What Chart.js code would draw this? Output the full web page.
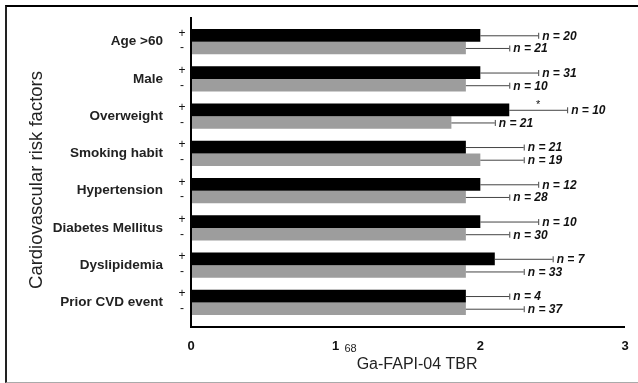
<!DOCTYPE html>
<html>
<head>
<meta charset="utf-8">
<script src="https://cdn.jsdelivr.net/npm/chart.js@4.4.1/dist/chart.umd.min.js"></script>
<style>
  html, body { margin: 0; padding: 0; background: #fff; }
  body { width: 638px; height: 383px; position: relative; overflow: hidden; }
  #frame {
    position: absolute; left: 5px; top: 5px; width: 640px; height: 375px;
    border-top: 2px solid #000; border-left: 2px solid #222; border-bottom: 1px solid #aaa;
  }
  #graficoFatores { position: absolute; left: 0; top: 0; }
</style>
</head>
<body>
<div id="frame"></div>
<canvas id="graficoFatores" width="638" height="383"></canvas>
<script>
// dados
const categorias = ['Age >60', 'Male', 'Overweight', 'Smoking habit', 'Hypertension', 'Diabetes Mellitus', 'Dyslipidemia', 'Prior CVD event'];
const comFator = [2.0, 2.0, 2.2, 1.9, 2.0, 2.0, 2.1, 1.9];      // "+"
const semFator = [1.9, 1.9, 1.8, 2.0, 1.9, 1.9, 1.9, 1.9];      // "-"
const dpComFator = [0.4, 0.4, 0.4, 0.4, 0.4, 0.4, 0.4, 0.3];
const dpSemFator = [0.3, 0.3, 0.3, 0.3, 0.3, 0.3, 0.4, 0.4];
const nComFator = [20, 31, 10, 21, 12, 10, 7, 4];
const nSemFator = [21, 10, 21, 19, 28, 30, 33, 37];
const significancia = ['', '', '*', '', '', '', '', ''];
const ticksX = [0, 1, 2, 3];
const tituloY = 'Cardiovascular risk factors';
const tituloXSup = '68';
const tituloX = 'Ga-FAPI-04 TBR';

const fonte = 'Arial, "Liberation Sans", sans-serif';

// zera o padding automático das escalas
function semPadding(scale) {
    scale.paddingTop = 0;
    scale.paddingBottom = 0;
    scale.paddingLeft = 0;
    scale.paddingRight = 0;
}

// desenha eixos, barras de erro, n e títulos
const extras = {
    id: 'extras',
    afterDatasetsDraw(chart) {
        const ctx = chart.ctx;
        const x = chart.scales.x;
        const area = chart.chartArea;
        const x0 = x.getPixelForValue(0);
        const x3 = x.getPixelForValue(3);
        ctx.save();

        // eixos
        ctx.strokeStyle = '#000';
        ctx.lineWidth = 2;
        ctx.beginPath();
        ctx.moveTo(x0, area.top - 6);
        ctx.lineTo(x0, area.bottom + 6);
        ctx.lineTo(x3, area.bottom + 6);
        ctx.stroke();

        const series = [
            { meta: chart.getDatasetMeta(0), val: comFator, dp: dpComFator, n: nComFator, sinal: '+' },
            { meta: chart.getDatasetMeta(1), val: semFator, dp: dpSemFator, n: nSemFator, sinal: '-' }
        ];
        series.forEach((s, si) => {
            s.meta.data.forEach((bar, i) => {
                const y = bar.y;
                const xs = x.getPixelForValue(s.val[i]);
                const xe = x.getPixelForValue(s.val[i] + s.dp[i]);
                ctx.strokeStyle = '#444';
                ctx.lineWidth = 1;
                ctx.beginPath();
                ctx.moveTo(xs, y + 0.5);
                ctx.lineTo(xe, y + 0.5);
                ctx.moveTo(xe + 0.5, y - 2.5);
                ctx.lineTo(xe + 0.5, y + 3.5);
                ctx.stroke();

                ctx.fillStyle = '#111';
                ctx.font = 'italic bold 12px ' + fonte;
                ctx.textAlign = 'left';
                ctx.textBaseline = 'middle';
                ctx.fillText('n = ' + s.n[i], xe + 4, y + 1);

                ctx.font = '12px ' + fonte;
                ctx.textAlign = 'center';
                ctx.fillText(s.sinal, x0 - 9, y - (si === 0 ? 2 : 0));

                if (si === 0 && significancia[i]) {
                    ctx.font = '11px ' + fonte;
                    ctx.fillText(significancia[i], x.getPixelForValue(s.val[i] + s.dp[i] / 2), y - 5);
                }
            });
        });

        // título y
        ctx.fillStyle = '#222';
        ctx.font = '18.5px ' + fonte;
        ctx.textAlign = 'center';
        ctx.textBaseline = 'alphabetic';
        ctx.translate(42, (area.top + area.bottom) / 2 + 8);
        ctx.rotate(-Math.PI / 2);
        ctx.fillText(tituloY, 0, 0);
        ctx.setTransform(1, 0, 0, 1, 0, 0);

        // título x com sobrescrito
        ctx.textAlign = 'left';
        ctx.font = '11px ' + fonte;
        const wSup = ctx.measureText(tituloXSup).width;
        ctx.font = '16px ' + fonte;
        const wTxt = ctx.measureText(tituloX).width;
        const cx = (x0 + x3) / 2 + 3;
        const inicio = cx - (wSup + wTxt) / 2;
        ctx.font = '11px ' + fonte;
        ctx.fillText(tituloXSup, inicio, 352);
        ctx.font = '16px ' + fonte;
        ctx.fillText(tituloX, inicio + wSup, 369);
        ctx.restore();
    }
};

window.onload = function() {
    const ctx = document.getElementById('graficoFatores').getContext('2d');
    new Chart(ctx, {
        type: 'bar',
        data: {
            labels: categorias,
            datasets: [{
                label: '+',
                data: comFator,
                backgroundColor: '#000',
                barPercentage: 1,
                categoryPercentage: 0.68
            }, {
                label: '-',
                data: semFator,
                backgroundColor: '#9d9d9d',
                barPercentage: 1,
                categoryPercentage: 0.68
            }]
        },
        options: {
            indexAxis: 'y',
            responsive: false,
            devicePixelRatio: 1,
            animation: false,
            layout: { padding: { top: 23, right: 13, left: 0, bottom: 0 } },
            plugins: {
                legend: { display: false },
                tooltip: { enabled: false }
            },
            scales: {
                x: {
                    min: 0,
                    max: 3,
                    afterBuildTicks: (scale) => { scale.ticks = ticksX.map(v => ({ value: v })); },
                    afterFit: (scale) => { scale.height = 62; semPadding(scale); },
                    grid: { display: false, drawTicks: false },
                    border: { display: false },
                    ticks: {
                        padding: 18,
                        color: '#111',
                        font: { family: fonte, size: 13, weight: 'bold' }
                    }
                },
                y: {
                    afterFit: (scale) => { scale.width = 191; semPadding(scale); },
                    grid: { display: false, drawTicks: false },
                    border: { display: false },
                    ticks: {
                        padding: 28,
                        color: '#222',
                        font: { family: fonte, size: 13.5, weight: 'bold' }
                    }
                }
            }
        },
        plugins: [extras]
    });
};
</script>
</body>
</html>
